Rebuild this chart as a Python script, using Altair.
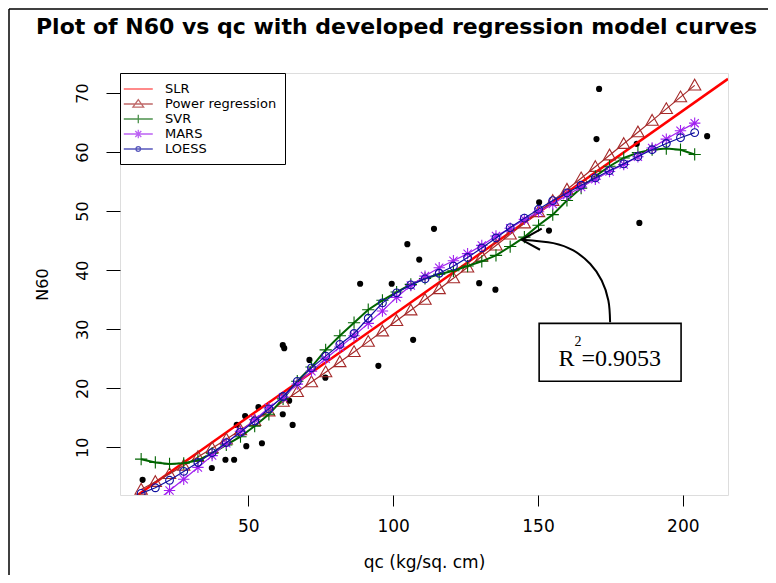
import altair as alt
import pandas as pd

# ---------------- data ----------------
qc_obs = [13.5, 37.4, 42.1, 45.1, 49.3, 54.7, 46.0, 48.9, 53.5, 61.9, 62.4, 65.3, 61.9, 64.1,
          71.1, 76.6, 88.6, 99.5, 94.9, 106.9, 104.9, 109.0, 114.1, 129.7, 135.3, 150.4,
          153.8, 185.0, 170.2, 171.1, 184.1, 208.4]
n60_obs = [4.5, 6.5, 7.9, 7.9, 10.2, 10.7, 13.8, 15.3, 16.8, 27.3, 26.8, 13.8, 15.6, 17.9,
           24.8, 21.8, 37.7, 37.7, 23.8, 28.2, 44.4, 41.8, 47.0, 37.8, 36.7, 51.5,
           46.7, 48.0, 62.2, 70.7, 61.4, 62.7]

qc_grid = [13.0, 17.9, 22.8, 27.7, 32.6, 37.5, 42.4, 47.3, 52.2, 57.1,
           62.0, 66.9, 71.8, 76.7, 81.6, 86.5, 91.4, 96.3, 101.2, 106.1,
           111.0, 115.9, 120.8, 125.7, 130.6, 135.5, 140.4, 145.3, 150.2, 155.1,
           160.0, 164.9, 169.8, 174.7, 179.6, 184.5, 189.4, 194.3, 199.2, 204.1]
power_n60 = [2.86, 4.16, 5.51, 6.92, 8.37, 9.86, 11.37, 12.93, 14.50, 16.10,
             17.73, 19.38, 21.05, 22.73, 24.44, 26.16, 27.90, 29.65, 31.42, 33.21,
             35.01, 36.81, 38.64, 40.48, 42.33, 44.19, 46.06, 47.94, 49.84, 51.74,
             53.66, 55.58, 57.51, 59.46, 61.40, 63.36, 65.33, 67.31, 69.30, 71.30]
svr_n60 = [8.0, 7.45, 7.2, 7.3, 7.8, 9.0, 10.4, 11.8, 13.6, 15.6,
           18.2, 21.2, 23.6, 26.5, 28.9, 31.1, 33.3, 34.9, 36.3, 37.6,
           38.6, 39.3, 39.9, 40.7, 41.5, 42.5, 44.0, 45.6, 47.6, 49.4,
           51.8, 53.9, 55.9, 57.6, 59.0, 59.9, 60.4, 60.6, 60.4, 59.6]
mars_n60 = [-1.4, 0.7, 2.7, 4.6, 6.6, 8.6, 10.7, 12.7, 14.7, 16.7,
            18.5, 20.7, 22.9, 25.0, 27.0, 28.9, 31.0, 33.1, 35.4, 37.4,
            39.0, 40.4, 41.6, 42.8, 44.2, 45.8, 47.1, 48.6, 49.9, 51.2,
            52.7, 54.1, 55.4, 56.7, 57.9, 59.2, 60.7, 62.2, 63.6, 64.9]
loess_n60 = [2.2, 3.15, 4.42, 5.92, 7.44, 9.1, 10.79, 12.58, 14.47, 16.52,
             18.61, 21.16, 23.46, 25.45, 27.43, 29.28, 31.86, 34.47, 36.17, 37.51,
             38.52, 39.48, 40.68, 42.14, 43.76, 45.45, 47.21, 48.81, 50.31, 51.79,
             53.08, 54.39, 55.62, 56.87, 58.0, 59.24, 60.4, 61.46, 62.43, 63.3]
slr_qc = [11.8, 215.6]
slr_n60 = [1.93, 72.4]

series = ["SLR", "Power regression", "SVR", "MARS", "LOESS"]
colors = ["#FF0000", "#A52A2A", "#006400", "#A020F0", "#1010A0"]

# annotation (R^2 box and curved arrow), in data units
box_qc = [150.4, 199.4]
box_n60 = [21.2, 31.0]
arrow_qc = [174.9, 174.3, 172.0, 168.0, 162.2, 155.3, 144.4]
arrow_n60 = [31.19, 34.86, 38.25, 41.08, 43.34, 44.58, 45.15]
head_qc = [151.3, 144.4, 150.7]
head_n60 = [47.02, 45.15, 43.46]

title_text = "Plot of N60 vs qc with developed regression model curves"

# ---------------- chart ----------------
W, H = 608, 422
XDOM = [5.7, 215.6]
YDOM = [1.93, 73.39]
FONT = "DejaVu Sans"

x_axis = alt.Axis(values=[50, 100, 150, 200], title="qc (kg/sq. cm)", grid=False, domain=False,
                  tickSize=11, tickColor="black", tickWidth=1, labelFont=FONT, labelFontSize=17,
                  labelColor="black", labelPadding=12, titleFont=FONT, titleFontSize=17,
                  titleFontWeight="normal", titleColor="black", titlePadding=20)
y_axis = alt.Axis(values=[10, 20, 30, 40, 50, 60, 70], title="N60", grid=False, domain=False,
                  tickSize=14, tickColor="black", tickWidth=1, labelFont=FONT, labelFontSize=16,
                  labelColor="black", labelAngle=-90, labelAlign="center", labelBaseline="bottom",
                  labelPadding=16, titleFont=FONT, titleFontSize=16, titleFontWeight="normal",
                  titleColor="black", titlePadding=24)


def xe(field="qc"):
    return alt.X(f"{field}:Q", scale=alt.Scale(domain=XDOM, nice=False, zero=False), axis=x_axis)


def ye(field="n60"):
    return alt.Y(f"{field}:Q", scale=alt.Scale(domain=YDOM, nice=False, zero=False), axis=y_axis)


layers = []

# outer figure frame (decoration)
one = pd.DataFrame({"a": [0]})
layers.append(alt.Chart(one).mark_rule(color="black", strokeWidth=1.5).encode(
    x=alt.value(-111), y=alt.value(-64), y2=alt.value(520)))
layers.append(alt.Chart(one).mark_rule(color="black", strokeWidth=1.5).encode(
    x=alt.value(-111), x2=alt.value(700), y=alt.value(-64)))

# title as text
layers.append(alt.Chart(one).mark_text(align="left", baseline="middle", font=FONT, fontSize=22,
                                       fontWeight="bold", color="black").encode(
    x=alt.value(-84), y=alt.value(-46), text=alt.value(title_text)))

# observations
obs = pd.DataFrame({"qc": qc_obs, "n60": n60_obs})
layers.append(alt.Chart(obs).mark_circle(size=38, color="black", opacity=1).encode(x=xe(), y=ye()))

# SLR
slr = pd.DataFrame({"qc": slr_qc, "n60": slr_n60})
layers.append(alt.Chart(slr).mark_line(color=colors[0], strokeWidth=2.5, clip=True).encode(x=xe(), y=ye()))

tri = "M0,-1L1,0.75L-1,0.75Z"
plus = "M-1,0H1M0,-1V1"
star = "M-1,0H1M0,-1V1M-0.72,-0.72L0.72,0.72M-0.72,0.72L0.72,-0.72"

model_vals = [power_n60, svr_n60, mars_n60, loess_n60]
marker = [(tri, 150), (plus, 150), (star, 130), ("circle", 60)]
widths = [1.2, 2.0, 1.2, 1.2]
for vals, col, (shp, sz), lw in zip(model_vals, colors[1:], marker, widths):
    d = pd.DataFrame({"qc": qc_grid, "n60": vals})
    layers.append(alt.Chart(d).mark_line(color=col, strokeWidth=lw, clip=True).encode(x=xe(), y=ye()))
    layers.append(alt.Chart(d).mark_point(shape=shp, size=sz, filled=False, color=col, strokeWidth=1.1,
                                          opacity=1, clip=True).encode(x=xe(), y=ye()))

# R^2 box + arrow
box = pd.DataFrame({"qc": [box_qc[0]], "qc2": [box_qc[1]], "n60": [box_n60[0]], "n602": [box_n60[1]]})
layers.append(alt.Chart(box).mark_rect(fill="white", stroke="black", strokeWidth=1.6).encode(
    x=xe(), x2="qc2:Q", y=ye(), y2="n602:Q"))
arr = pd.DataFrame({"qc": arrow_qc, "n60": arrow_n60, "o": list(range(len(arrow_qc)))})
layers.append(alt.Chart(arr).mark_line(color="black", strokeWidth=2, interpolate="cardinal").encode(
    x=xe(), y=ye(), order="o:Q"))
hd = pd.DataFrame({"qc": head_qc, "n60": head_n60, "o": [0, 1, 2]})
layers.append(alt.Chart(hd).mark_line(color="black", strokeWidth=2).encode(x=xe(), y=ye(), order="o:Q"))

txt = pd.DataFrame({"qc": [157.05, 162.6, 165.05], "n60": [23.85, 27.2, 23.85],
                    "t": ["R", "2", "=0.9053"], "s": [24, 14, 24]})
layers.append(alt.Chart(txt).mark_text(align="left", baseline="alphabetic", font="Liberation Serif",
                                       color="black").encode(
    x=xe(), y=ye(), text="t:N", size=alt.Size("s:Q", scale=None, legend=None)))

# legend (drawn by Vega-Lite from a shape/color scale)
u_line = "M-1.71,0H2.35"
legend_paths = [
    u_line,
    u_line + "M0.32,-0.6L1.07,0.45L-0.43,0.45Z",
    u_line + "M0.32,-0.6V0.6",
    u_line + "M0.32,-0.6V0.6M-0.1,-0.42L0.74,0.42M-0.1,0.42L0.74,-0.42",
    u_line + "M0,0A0.32,0.32 0 1 0 0.64,0A0.32,0.32 0 1 0 0,0",
]
leg = alt.Legend(orient="none", legendX=0, legendY=0, title=None, strokeColor="black",
                 fillColor="white", padding=8, symbolSize=204, rowPadding=0, labelOffset=21,
                 labelFont=FONT, labelFontSize=13, labelColor="black", symbolStrokeWidth=1.3,
                 labelLimit=400)
leg_df = pd.DataFrame({"series": pd.Series([], dtype=str), "qc": pd.Series([], dtype=float),
                       "n60": pd.Series([], dtype=float)})
layers.append(alt.Chart(leg_df).mark_point(filled=False).encode(
    x=xe(), y=ye(),
    color=alt.Color("series:N", scale=alt.Scale(domain=series, range=colors), legend=leg),
    shape=alt.Shape("series:N", scale=alt.Scale(domain=series, range=legend_paths), legend=leg)))

chart = alt.layer(*layers).properties(
    width=W, height=H,
    padding={"left": 112, "top": 65, "right": 40, "bottom": 80},
    autosize=alt.AutoSizeParams(type="none"),
).configure_view(stroke="black", strokeWidth=1.2).configure(background="white")

chart.save("out.html", embed_options={"renderer": "svg", "actions": False})
